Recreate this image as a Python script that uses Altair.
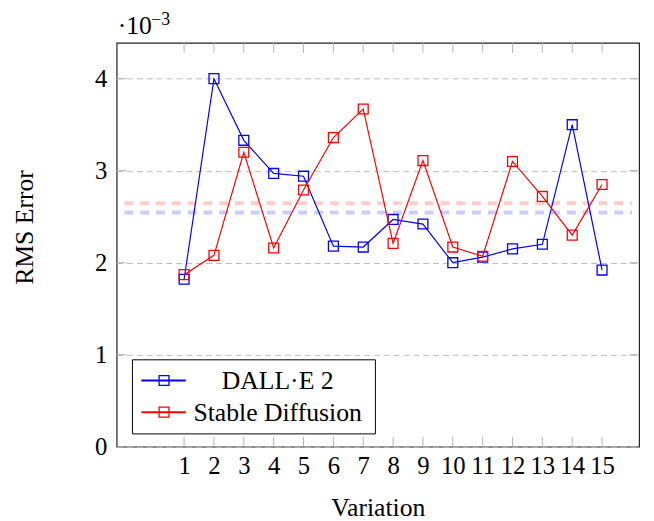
import altair as alt
import pandas as pd

# values in units of 1e-3
variation = list(range(1, 16))
dalle2 = [1.82, 4.00, 3.33, 2.97, 2.94, 2.18, 2.17, 2.47, 2.42, 2.00, 2.06, 2.15, 2.20, 3.50, 1.92]
stable_diffusion = [1.87, 2.08, 3.20, 2.16, 2.79, 3.36, 3.67, 2.21, 3.11, 2.17, 2.07, 3.10, 2.72, 2.30, 2.85]
mean_x = [-1, 16]
dalle2_mean = [2.546, 2.546]
sd_mean = [2.646, 2.646]
x_ticks = list(range(1, 16))
y_ticks = [0, 1, 2, 3, 4]
y_inner_ticks = [1, 2, 3, 4]
series_names = ["DALL·E 2", "Stable Diffusion"]

W, H = 529, 409
FONT = "Liberation Serif"
BLUE, RED = "#0000ff", "#ff0000"
LBLUE, LRED = "#ccccff", "#ffcccc"
TICKC = "#b4b4b4"

xs = alt.Scale(domain=[-1.26, 16.24], nice=False, zero=False)
ys = alt.Scale(domain=[0, 4.39], nice=False, zero=False)

df_d = pd.DataFrame({"Variation": variation, "RMS": dalle2})
df_s = pd.DataFrame({"Variation": variation, "RMS": stable_diffusion})
df_md = pd.DataFrame({"Variation": mean_x, "RMS": dalle2_mean})
df_ms = pd.DataFrame({"Variation": mean_x, "RMS": sd_mean})

x_axis = alt.Axis(values=x_ticks, title="Variation", grid=False, ticks=False, domain=False,
                  labelFontSize=25, labelFont=FONT, labelColor="black", labelPadding=7,
                  labelOverlap=False, labelFlush=False, titleFont=FONT, titleFontSize=26,
                  titleFontWeight="normal", titleColor="black", titlePadding=17)
y_axis = alt.Axis(values=y_ticks, title=None, grid=True, gridColor="#bdbdbd", gridDash=[6, 4],
                  gridWidth=1, ticks=False, domain=False, labelFontSize=25, labelFont=FONT,
                  labelColor="black", labelPadding=10, labelFlush=False)


def xq(f="Variation"):
    return alt.X(f"{f}:Q", scale=xs, axis=x_axis)


def yq(f="RMS"):
    return alt.Y(f"{f}:Q", scale=ys, axis=y_axis)


mean_d = alt.Chart(df_md).mark_line(color=LBLUE, strokeWidth=4, strokeDash=[9, 7]).encode(x=xq(), y=yq())
mean_s = alt.Chart(df_ms).mark_line(color=LRED, strokeWidth=4, strokeDash=[9, 7]).encode(x=xq(), y=yq())

line_d = alt.Chart(df_d).mark_line(color=BLUE, strokeWidth=1.2).encode(x=xq(), y=yq())
pts_d = alt.Chart(df_d).mark_point(shape="square", filled=False, color=BLUE, size=100,
                                   strokeWidth=1.3, opacity=1).encode(x=xq(), y=yq())
line_s = alt.Chart(df_s).mark_line(color=RED, strokeWidth=1.2).encode(x=xq(), y=yq())
pts_s = alt.Chart(df_s).mark_point(shape="square", filled=False, color=RED, size=100,
                                   strokeWidth=1.3, opacity=1).encode(x=xq(), y=yq())

df_xt = pd.DataFrame({"t": x_ticks})
df_yt = pd.DataFrame({"t": y_inner_ticks})
tb = alt.Chart(df_xt).mark_rule(color=TICKC, strokeWidth=1).encode(
    x=xq("t"), y=alt.value(H - 10), y2=alt.value(H))
tt = alt.Chart(df_xt).mark_rule(color=TICKC, strokeWidth=1).encode(
    x=xq("t"), y=alt.value(0), y2=alt.value(10))
tl = alt.Chart(df_yt).mark_rule(color=TICKC, strokeWidth=1).encode(
    y=yq("t"), x=alt.value(0), x2=alt.value(10))
tr = alt.Chart(df_yt).mark_rule(color=TICKC, strokeWidth=1).encode(
    y=yq("t"), x=alt.value(W - 10), x2=alt.value(W))

one = pd.DataFrame({"a": [0]})
ytitle = alt.Chart(one).mark_text(angle=270, align="center", baseline="middle", font=FONT,
                                  fontSize=26, color="black").encode(
    x=alt.value(-93), y=alt.value(187), text=alt.value("RMS Error"))
exp1 = alt.Chart(one).mark_text(align="left", baseline="alphabetic", font=FONT, fontSize=26,
                                color="black").encode(x=alt.value(1), y=alt.value(-9), text=alt.value("·10"))
exp2 = alt.Chart(one).mark_text(align="left", baseline="alphabetic", font=FONT, fontSize=18,
                                color="black").encode(x=alt.value(35), y=alt.value(-18), text=alt.value("−3"))

# legend
leg_box = alt.Chart(one).mark_rect(fill="white", stroke="black", strokeWidth=1).encode(
    x=alt.value(16), x2=alt.value(262), y=alt.value(321), y2=alt.value(396))
leg_items = []
for name, col, yy in [(series_names[0], BLUE, 342), (series_names[1], RED, 374)]:
    leg_items.append(alt.Chart(one).mark_rule(color=col, strokeWidth=2).encode(
        x=alt.value(25), x2=alt.value(70), y=alt.value(yy)))
    leg_items.append(alt.Chart(one).mark_point(shape="square", filled=False, color=col, size=100,
                                               strokeWidth=1.3, opacity=1).encode(
        x=alt.value(48), y=alt.value(yy)))
    leg_items.append(alt.Chart(pd.DataFrame({"name": [name]})).mark_text(
        align="center", baseline="middle", font=FONT, fontSize=26, color="black").encode(
        x=alt.value(163), y=alt.value(yy + 1), text="name:N"))

chart = alt.layer(
    mean_d, mean_s, line_d, pts_d, line_s, pts_s, tb, tt, tl, tr,
    ytitle, exp1, exp2, leg_box, *leg_items
).properties(
    width=W, height=H,
    autosize=alt.AutoSizeParams(type="none"),
    padding={"left": 110, "top": 32, "right": 7, "bottom": 72},
).configure_view(stroke="#222222", strokeWidth=1.2)

chart.save("out.html", embed_options={"renderer": "svg", "actions": False})
